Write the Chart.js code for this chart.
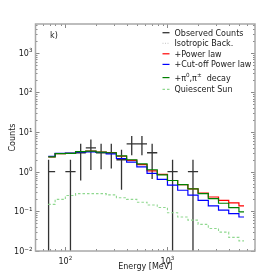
<!DOCTYPE html>
<html><head><meta charset="utf-8">
<script src="https://cdn.jsdelivr.net/npm/chart.js@4/dist/chart.umd.min.js"></script>
<style>html,body{margin:0;padding:0;background:#fff;}#wrap{width:275px;height:279px;position:relative;}</style>
</head><body><div id="wrap"><canvas id="c"></canvas></div>
<script>
// ---- data ----
const binEdges = [68, 79.4, 100, 125.9, 158.5, 199.5, 251.2, 316.2, 398.1, 501.2, 631, 794.3, 1000, 1259, 1585, 1995, 2512, 3162, 3981, 5012, 5623];
const powerLaw       = [2.35, 2.85, 2.9, 3.2, 3.3, 3.1, 3.0, 2.45, 1.92, 1.5, 1.05, 0.86, 0.6, 0.47, 0.37, 0.29, 0.23, 0.19, 0.163, 0.137];
const cutoffPowerLaw = [2.45, 2.9, 2.95, 3.1, 3.15, 3.05, 2.8, 2.15, 1.75, 1.32, 0.91, 0.64, 0.46, 0.34, 0.255, 0.19, 0.137, 0.107, 0.088, 0.072];
const pionDecay      = [2.35, 2.85, 2.9, 3.2, 3.3, 3.1, 3.0, 2.5, 2.0, 1.58, 1.12, 0.83, 0.6, 0.47, 0.37, 0.28, 0.21, 0.16, 0.124, 0.097];
const quiescentSun   = [0.15, 0.2, 0.25, 0.28, 0.28, 0.28, 0.26, 0.22, 0.2, 0.17, 0.145, 0.125, 0.092, 0.072, 0.06, 0.047, 0.037, 0.03, 0.022, 0.018];
const isotropicBack  = [];

const obsEnergy  = [68.5, 112.2, 141.3, 177.8, 223.9, 281.8, 354.8, 446.7, 562.3, 707.9, 1122, 1778];
const obsCounts  = [1, 1, 3, 4, 3, 3, 2, 5, 5, 3, 1, 1];
const obsLow     = [0, 0, 0.6, 1.1, 1.15, 1.2, 0.35, 2.6, 2.6, 0.65, 0, 0];
const obsHigh    = [2, 2, 5.1, 6.5, 5.1, 5.1, 3.6, 7.9, 7.9, 5.1, 2, 2];
const obsBinLow  = [68, 100, 125.9, 158.5, 199.5, 251.2, 316.2, 398.1, 501.2, 631, 1000, 1585];
const obsBinHigh = [79.4, 125.9, 158.5, 199.5, 251.2, 316.2, 398.1, 501.2, 631, 794.3, 1259, 1995];

const xTickValues = [100, 1000];
const xTickExponents = ['2', '3'];
const yTickValues = [0.01, 0.1, 1, 10, 100, 1000];
const yTickExponents = ['\u22122', '\u22121', '0', '1', '2', '3'];

const legendLabels = [
  [{t: 'Observed Counts'}],
  [{t: 'Isotropic Back.'}],
  [{t: '+Power law'}],
  [{t: '+Cut-off Power law'}],
  [{t: '+\u03c0'}, {t: '0', sup: true}, {t: ',\u03c0'}, {t: '\u00b1', sup: true}, {t: '  decay'}],
  [{t: 'Quiescent Sun'}]
];
const panelLabel = 'k)';

const X_MIN = 51, X_MAX = 7200, Y_MIN = 0.01, Y_MAX = 5300;

// ---- build datasets ----
function stepData(values) {
  const pts = values.map((v, i) => ({x: binEdges[i], y: v}));
  pts.push({x: binEdges[values.length], y: values[values.length - 1]});
  return pts;
}
const obsData = [];
for (let i = 0; i < obsCounts.length; i++) {
  const lo = obsLow[i] > 0 ? obsLow[i] : Y_MIN / 10;
  obsData.push({x: obsEnergy[i], y: lo}, {x: obsEnergy[i], y: obsHigh[i]}, {x: obsEnergy[i], y: null});
  obsData.push({x: obsBinLow[i], y: obsCounts[i]}, {x: obsBinHigh[i], y: obsCounts[i]}, {x: obsBinHigh[i], y: null});
}

const styles = [
  {color: '#333333', dash: [], width: 1.3},
  {color: '#cfcfcf', dash: [1, 1.5], width: 1.3},
  {color: '#ff0000', dash: [], width: 1.2},
  {color: '#0000ff', dash: [], width: 1.2},
  {color: '#008000', dash: [], width: 1.2},
  {color: '#8fd88f', dash: [2.5, 2], width: 1.1}
];

function ds(label, data, st, order, stepped) {
  return {label, data, borderColor: st.color, borderDash: st.dash, borderWidth: st.width,
    pointRadius: 0, fill: false, tension: 0, stepped: stepped, spanGaps: false, order};
}

const datasets = [
  ds('Observed Counts', obsData, styles[0], 6, false),
  ds('Isotropic Back.', stepData(isotropicBack.length ? isotropicBack : []), styles[1], 5, true),
  ds('Quiescent Sun', stepData(quiescentSun), styles[5], 4, true),
  ds('+Power law', stepData(powerLaw), styles[2], 3, true),
  ds('+Cut-off Power law', stepData(cutoffPowerLaw), styles[3], 2, true),
  ds('+pi decay', stepData(pionDecay), styles[4], 1, true)
];
datasets[1].data = [];

Chart.defaults.font.family = 'DejaVu Sans';
Chart.defaults.color = '#1a1a1a';

function drawRich(ctx, parts, x, y, size) {
  let cx = x;
  for (const p of parts) {
    if (p.sup) {
      ctx.font = (size * 0.7) + 'px DejaVu Sans';
      ctx.fillText(p.t, cx, y - size * 0.42);
    } else {
      ctx.font = size + 'px DejaVu Sans';
      ctx.fillText(p.t, cx, y);
    }
    cx += ctx.measureText(p.t).width;
  }
  return cx - x;
}
function richWidth(ctx, parts, size) {
  let w = 0;
  for (const p of parts) {
    ctx.font = (p.sup ? size * 0.7 : size) + 'px DejaVu Sans';
    w += ctx.measureText(p.t).width;
  }
  return w;
}

const decor = {
  id: 'decor',
  afterDraw(chart) {
    const ctx = chart.ctx, a = chart.chartArea, xs = chart.scales.x, ys = chart.scales.y;
    ctx.save();
    // ticks (inward, all sides)
    ctx.strokeStyle = '#8a8a8a';
    ctx.lineWidth = 1;
    ctx.beginPath();
    for (let d = 1; d <= 4; d++) {
      for (let m = 1; m <= 9; m++) {
        const v = m * Math.pow(10, d);
        if (v < X_MIN || v > X_MAX) continue;
        const px = Math.round(xs.getPixelForValue(v)) + 0.5;
        const L = m === 1 ? 4 : 2;
        ctx.moveTo(px, a.bottom); ctx.lineTo(px, a.bottom - L);
        ctx.moveTo(px, a.top); ctx.lineTo(px, a.top + L);
      }
    }
    for (let d = -2; d <= 3; d++) {
      for (let m = 1; m <= 9; m++) {
        const v = m * Math.pow(10, d);
        if (v < Y_MIN || v > Y_MAX) continue;
        const py = Math.round(ys.getPixelForValue(v)) + 0.5;
        const L = m === 1 ? 4 : 2;
        ctx.moveTo(a.left, py); ctx.lineTo(a.left + L, py);
        ctx.moveTo(a.right, py); ctx.lineTo(a.right - L, py);
      }
    }
    ctx.stroke();
    // frame
    ctx.strokeStyle = '#a8a8a8';
    ctx.lineWidth = 1.5;
    ctx.strokeRect(a.left, a.top, a.right - a.left, a.bottom - a.top);
    // tick labels
    ctx.fillStyle = '#1a1a1a';
    ctx.textBaseline = 'alphabetic';
    ctx.textAlign = 'left';
    const fs = 8;
    xTickValues.forEach((v, i) => {
      const parts = [{t: '10'}, {t: xTickExponents[i], sup: true}];
      const w = richWidth(ctx, parts, fs);
      const px = xs.getPixelForValue(v);
      drawRich(ctx, parts, px - w / 2, a.bottom + 12.5, fs);
    });
    yTickValues.forEach((v, i) => {
      const parts = [{t: '10'}, {t: yTickExponents[i], sup: true}];
      const w = richWidth(ctx, parts, fs);
      const py = ys.getPixelForValue(v);
      drawRich(ctx, parts, a.left - 3 - w, py + 3, fs);
    });
    // panel label
    ctx.font = '8px DejaVu Sans';
    ctx.fillText(panelLabel, 50, 37.5);
    // legend
    const rowY = [32.7, 43.3, 53.8, 64.4, 77.6, 89.4];
    for (let i = 0; i < legendLabels.length; i++) {
      const st = styles[i];
      ctx.strokeStyle = st.color;
      ctx.lineWidth = st.width;
      ctx.setLineDash(st.dash);
      ctx.beginPath();
      ctx.moveTo(162.5, rowY[i]);
      ctx.lineTo(169.5, rowY[i]);
      ctx.stroke();
      ctx.setLineDash([]);
      ctx.fillStyle = '#1a1a1a';
      drawRich(ctx, legendLabels[i], 174.5, rowY[i] + 3, 8);
    }
    ctx.restore();
  }
};

new Chart(document.getElementById('c'), {
  type: 'line',
  data: {datasets},
  options: {
    responsive: true, maintainAspectRatio: false, animation: false,
    layout: {padding: {left: 0, right: 20, top: 24, bottom: 0}},
    plugins: {legend: {display: false}, tooltip: {enabled: false}},
    scales: {
      x: {type: 'logarithmic', min: X_MIN, max: X_MAX,
          grid: {display: false, drawTicks: false}, border: {display: false},
          ticks: {display: false},
          afterFit: s => { s.height = 28; },
          title: {display: true, text: 'Energy [MeV]', font: {size: 8}, color: '#1a1a1a', padding: {top: 0, bottom: 7}}},
      y: {type: 'logarithmic', min: Y_MIN, max: Y_MAX,
          grid: {display: false, drawTicks: false}, border: {display: false},
          ticks: {display: false},
          afterFit: s => { s.width = 35.5; },
          title: {display: true, text: 'Counts', font: {size: 8}, color: '#1a1a1a', padding: {top: 8, bottom: 0}}}
    }
  },
  plugins: [decor]
});
</script></body></html>
